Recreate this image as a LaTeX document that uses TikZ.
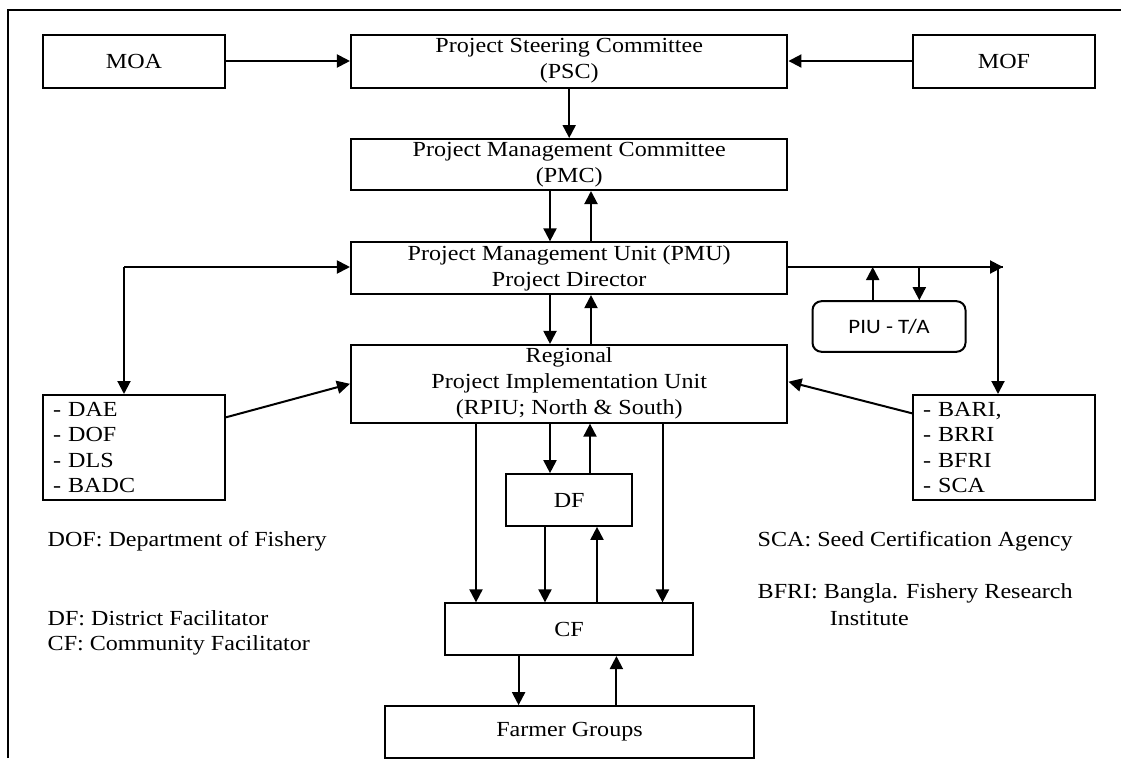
\documentclass[tikz,border=0pt]{standalone}
\usepackage{fontspec}
\setmainfont{Liberation Serif}[FakeStretch=1.12]
\newfontfamily\piufont{Carlito}[FakeStretch=1.12]
\usetikzlibrary{arrows.meta}
\newcommand\orgtext{\fontsize{21.5}{26}\selectfont}
\begin{document}
\begin{tikzpicture}[x=1pt,y=-1pt,
  box/.style={draw, line width=2pt, inner sep=0pt, font=\orgtext, align=center},
  listbox/.style={draw, line width=2pt, inner xsep=10pt, inner ysep=0pt,
     font=\fontsize{21.5}{25.5}\selectfont, align=left, text width=162pt,
     minimum width=182pt, minimum height=105pt},
  legend/.style={font=\orgtext, inner sep=0pt, anchor=base west},
  arr/.style={line width=2pt, -{Triangle[length=13pt,width=13pt]}},
  link/.style={line width=2pt}]
\useasboundingbox (0,0) rectangle (1121,758);

% outer frame
\draw[line width=2pt] (8,758) -- (8,10) -- (1121,10);

% top row
\node[box, minimum width=182pt, minimum height=53pt] (moa) at (134,61) {MOA};
\node[box, minimum width=436.5pt, minimum height=53pt] (psc) at (569.2,61)
  {Project Steering Committee\\(PSC)};
\node[box, minimum width=182pt, minimum height=53pt] (mof) at (1004,61) {MOF};

% management chain
\node[box, minimum width=436.5pt, minimum height=51pt] (pmc) at (569.2,164.5)
  {Project Management Committee\\(PMC)};
\node[box, minimum width=436.5pt, minimum height=51.7pt] (pmu) at (569.2,268.2)
  {Project Management Unit (PMU)\\Project Director};
\node[box, minimum width=436.5pt, minimum height=77.7pt] (rpiu) at (569.2,383.8)
  {Regional\\Project Implementation Unit\\(RPIU; North \& South)};

% technical assistance
\node[draw, line width=2pt, rounded corners=9pt, minimum width=153pt,
  minimum height=50.6pt, inner sep=0pt, font=\piufont\fontsize{20.5}{24}\selectfont]
  (piu) at (889,326.5) {PIU - T/A};

% partner agencies
\node[listbox] (dae) at (134,447.5) {- DAE\\- DOF\\- DLS\\- BADC};
\node[listbox] (bari) at (1004,447.5) {- BARI,\\- BRRI\\- BFRI\\- SCA};

% field level
\node[box, minimum width=126.5pt, minimum height=51.7pt] (df) at (569.2,500) {DF};
\node[box, minimum width=248pt, minimum height=51.7pt] (cf) at (569,629.2) {CF};
\node[box, minimum width=369pt, minimum height=51.7pt] (fg) at (569.5,732) {Farmer Groups};

% abbreviations
\node[legend] (lgdof) at (47.5,546.7) {DOF: Department of Fishery};
\node[legend] (lgdf) at (47.5,625) {DF: District Facilitator};
\node[legend] (lgcf) at (47.5,650) {CF: Community Facilitator};
\node[legend] (lgsca) at (757.5,546.7) {SCA: Seed Certification Agency};
\node[legend] (lgbfri) at (757.5,598.3) {BFRI: Bangla. Fishery Research};
\node[legend] (lginst) at (829.6,625) {Institute};

% ministries to steering committee
\draw[arr] (moa.east) -- (psc.west);
\draw[arr] (mof.west) -- (psc.east);
\draw[arr] (psc.south) -- (pmc.north);

% PMC <-> PMU <-> RPIU
\draw[arr] (pmc.south -| 550,0) -- (pmu.north -| 550,0);
\draw[arr] (pmu.north -| 591,0) -- (pmc.south -| 591,0);
\draw[arr] (pmu.south -| 550,0) -- (rpiu.north -| 550,0);
\draw[arr] (rpiu.north -| 591,0) -- (pmu.south -| 591,0);

% left branch: PMU <-> line agencies
\coordinate (L) at (124,267);
\draw[arr] (L) -- (L -| pmu.west);
\draw[arr] (L) -- (L |- dae.north);
\draw[arr] (dae.east |- 0,417.3) -- (rpiu.west);

% right branch: PMU -> research institutes, PIU
\coordinate (R) at (1003,267);
\coordinate (Rv) at (998,267);
\draw[arr] (R -| pmu.east) -- (R);
\draw[link] (Rv) -- (R);
\draw[arr] (Rv) -- (Rv |- bari.north);
\draw[arr] (piu.north -| 872.7,0) -- (872.7,267);
\draw[arr] (919.3,267) -- (piu.north -| 919.3,0);
\draw[arr] (bari.west |- 0,413.3) -- (rpiu.east |- 0,381.7);

% RPIU -> DF / CF
\draw[arr] (rpiu.south -| 476,0) -- (cf.north -| 476,0);
\draw[arr] (rpiu.south -| 550,0) -- (df.north -| 550,0);
\draw[arr] (df.north -| 590,0) -- (rpiu.south -| 590,0);
\draw[arr] (rpiu.south -| 662.5,0) -- (cf.north -| 662.5,0);

% DF <-> CF
\draw[arr] (df.south -| 545,0) -- (cf.north -| 545,0);
\draw[arr] (cf.north -| 597,0) -- (df.south -| 597,0);

% CF <-> farmer groups
\draw[arr] (cf.south -| 518.6,0) -- (fg.north -| 518.6,0);
\draw[arr] (fg.north -| 616.4,0) -- (cf.south -| 616.4,0);
\end{tikzpicture}
\end{document}
